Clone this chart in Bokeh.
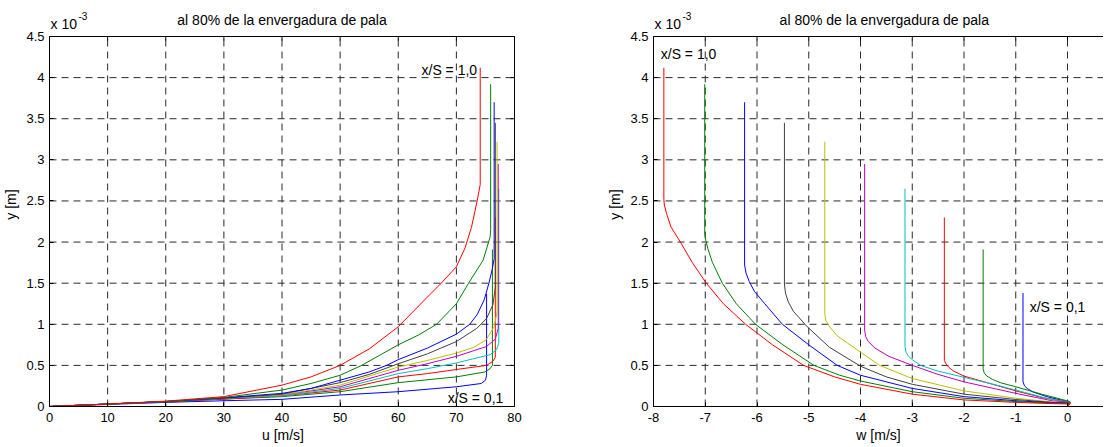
import math
from bokeh.plotting import figure
from bokeh.layouts import row
from bokeh.models import Range1d, FixedTicker, NumeralTickFormatter, Label
from bokeh.embed import file_html
from bokeh.resources import INLINE

# ---------------- data (y in units of 1e-3 m) ----------------
title_text = "al 80% de la envergadura de pala"
x_over_s = ["0,1", "0,2", "0,3", "0,4", "0,5", "0,6", "0,7", "0,8", "0,9", "1,0"]

u_ticks = [0, 10, 20, 30, 40, 50, 60, 70, 80]
w_ticks = [-8, -7, -6, -5, -4, -3, -2, -1, 0]
y_ticks = [0, 0.5, 1, 1.5, 2, 2.5, 3, 3.5, 4, 4.5]
u_lim = (0, 80)
w_lim = (-8, 1)
y_lim = (0, 4.5)

# streamwise velocity profiles u(y)
u01 = [0, 10, 20, 30, 40, 50, 60, 70, 74.3, 75.0, 75.2, 75.2]
yu01 = [0, 0.025, 0.05, 0.07, 0.087, 0.14, 0.18, 0.24, 0.28, 0.32, 0.38, 1.37]
u02 = [0, 10, 20, 30, 40, 50, 60, 70, 74.9, 75.8, 76.2, 76.2]
yu02 = [0, 0.03, 0.055, 0.09, 0.12, 0.18, 0.29, 0.36, 0.42, 0.46, 0.50, 1.91]
u03 = [0, 10, 20, 30, 40, 50, 60, 65, 70, 75.2, 76.3, 76.7, 76.7]
yu03 = [0, 0.03, 0.06, 0.09, 0.13, 0.20, 0.36, 0.40, 0.45, 0.50, 0.55, 0.60, 2.30]
u04 = [0, 10, 20, 30, 40, 50, 60, 65, 70, 75.8, 76.9, 77.3, 77.3]
yu04 = [0, 0.03, 0.06, 0.10, 0.13, 0.22, 0.40, 0.46, 0.53, 0.63, 0.69, 0.77, 2.65]
u05 = [0, 10, 20, 30, 40, 50, 60, 65, 70, 75.2, 76.7, 77.2, 77.2]
yu05 = [0, 0.03, 0.06, 0.10, 0.14, 0.24, 0.44, 0.52, 0.61, 0.73, 0.82, 0.95, 2.95]
u06 = [0, 10, 20, 30, 40, 50, 60, 65, 70, 73, 75.1, 76.5, 77.0, 77.0]
yu06 = [0, 0.03, 0.06, 0.10, 0.14, 0.26, 0.48, 0.56, 0.65, 0.72, 0.81, 0.97, 1.15, 3.22]
u07 = [0, 10, 20, 30, 40, 50, 55, 60, 65, 70, 73.5, 75.2, 76.3, 76.7, 76.7]
yu07 = [0, 0.03, 0.06, 0.10, 0.15, 0.29, 0.39, 0.52, 0.64, 0.79, 0.95, 1.07, 1.24, 1.45, 3.45]
u08 = [0, 10, 20, 30, 40, 45, 50, 55, 58, 60, 65, 70, 72.3, 73.6, 74.8, 75.6, 76.2, 76.5, 76.5]
yu08 = [0, 0.03, 0.06, 0.105, 0.16, 0.22, 0.32, 0.42, 0.50, 0.57, 0.71, 0.88, 1.00, 1.12, 1.30, 1.50, 1.68, 1.80, 3.70]
u09 = [0, 10, 20, 30, 40, 45, 50, 53.7, 60, 63.5, 66.6, 70, 72.1, 74.6, 75.8, 75.9, 75.9]
yu09 = [0, 0.03, 0.06, 0.11, 0.20, 0.28, 0.38, 0.50, 0.75, 0.87, 1.00, 1.25, 1.50, 1.78, 2.06, 2.15, 3.92]
u10 = [0, 10, 20, 30, 40, 45, 50, 55, 60, 65, 67.4, 70, 71.5, 72.6, 73.6, 74.1, 74.1]
yu10 = [0, 0.03, 0.065, 0.12, 0.26, 0.36, 0.50, 0.70, 0.97, 1.33, 1.50, 1.70, 1.93, 2.18, 2.51, 2.70, 4.12]

# crossflow velocity profiles w(y)
w01 = [-0.86, -0.86, -0.83, -0.78, -0.68, -0.40, -0.10, 0.05, 0.0]
yw01 = [1.38, 0.30, 0.25, 0.22, 0.18, 0.12, 0.075, 0.05, 0.0]
w02 = [-1.63, -1.63, -1.61, -1.56, -1.45, -1.30, -1.00, -0.50, 0.05, 0.0]
yw02 = [1.91, 0.46, 0.41, 0.37, 0.33, 0.29, 0.24, 0.15, 0.06, 0.0]
w03 = [-2.38, -2.38, -2.35, -2.30, -2.20, -2.00, -1.50, -1.00, -0.50, 0.05, 0.0]
yw03 = [2.30, 0.56, 0.52, 0.48, 0.43, 0.37, 0.28, 0.19, 0.11, 0.05, 0.0]
w04 = [-3.14, -3.14, -3.12, -3.07, -3.00, -2.84, -2.50, -2.00, -1.50, -1.00, -0.40, 0.05, 0.0]
yw04 = [2.65, 0.73, 0.66, 0.61, 0.57, 0.50, 0.43, 0.355, 0.28, 0.20, 0.10, 0.05, 0.0]
w05 = [-3.92, -3.92, -3.90, -3.85, -3.72, -3.45, -3.00, -2.50, -2.00, -1.00, -0.30, 0.05, 0.0]
yw05 = [2.95, 0.93, 0.85, 0.79, 0.71, 0.61, 0.50, 0.39, 0.30, 0.16, 0.07, 0.05, 0.0]
w06 = [-4.69, -4.69, -4.67, -4.61, -4.45, -4.00, -3.63, -3.00, -2.00, -1.00, -0.30, 0.05, 0.0]
yw06 = [3.22, 1.13, 1.05, 0.98, 0.86, 0.66, 0.50, 0.34, 0.19, 0.10, 0.055, 0.045, 0.0]
w07 = [-5.47, -5.47, -5.45, -5.40, -5.30, -5.03, -4.60, -4.00, -3.50, -3.00, -2.00, -1.00, -0.30, 0.05, 0.0]
yw07 = [3.45, 1.49, 1.38, 1.28, 1.16, 0.97, 0.72, 0.49, 0.36, 0.27, 0.15, 0.085, 0.05, 0.04, 0.0]
w08 = [-6.24, -6.24, -6.21, -6.15, -6.05, -5.85, -5.51, -5.00, -4.45, -4.00, -3.00, -2.00, -1.00, -0.30, 0.05, 0.0]
yw08 = [3.70, 1.72, 1.62, 1.52, 1.40, 1.25, 1.00, 0.75, 0.50, 0.38, 0.22, 0.12, 0.07, 0.045, 0.04, 0.0]
w09 = [-7.01, -7.01, -6.99, -6.95, -6.86, -6.67, -6.40, -6.03, -5.50, -4.90, -4.40, -4.00, -3.00, -2.00, -1.00, -0.30, 0.05, 0.0]
yw09 = [3.92, 2.10, 2.02, 1.92, 1.75, 1.50, 1.25, 1.00, 0.75, 0.50, 0.38, 0.31, 0.18, 0.10, 0.06, 0.04, 0.035, 0.0]
w10 = [-7.80, -7.80, -7.79, -7.75, -7.66, -7.48, -7.25, -6.98, -6.65, -6.22, -5.70, -5.10, -4.50, -4.00, -3.00, -2.00, -1.00, -0.30, 0.05, 0.0]
yw10 = [4.12, 2.52, 2.45, 2.35, 2.18, 2.00, 1.75, 1.50, 1.25, 1.00, 0.75, 0.50, 0.36, 0.27, 0.15, 0.08, 0.05, 0.035, 0.03, 0.0]

u_curves = [(u01, yu01), (u02, yu02), (u03, yu03), (u04, yu04), (u05, yu05),
            (u06, yu06), (u07, yu07), (u08, yu08), (u09, yu09), (u10, yu10)]
w_curves = [(w01, yw01), (w02, yw02), (w03, yw03), (w04, yw04), (w05, yw05),
            (w06, yw06), (w07, yw07), (w08, yw08), (w09, yw09), (w10, yw10)]

# ---------------- styles / layout ----------------
colors = ["#0000ff", "#008000", "#ff0000", "#00bfbf", "#bf00bf",
          "#bfbf00", "#404040", "#0000ff", "#008000", "#ff0000"]
FONT = "Liberation Sans"
TICK_SIZE = "13px"
TEXT_SIZE = "14px"

FIG_H = 445
FRAME_TOP_GAP = 2        # px between figure top and (extended) frame top
HEADER_PX = 34           # px of frame above y = 4.5 used for title / exponent
FRAME_H = 404            # px, frame height (incl. header area)
PX_PER_Y = (FRAME_H - HEADER_PX) / (y_lim[1] - y_lim[0])
y_top = y_lim[1] + HEADER_PX / PX_PER_Y

L_FRAME_W = 467
L_PX_PER_X = 465 / (u_lim[1] - u_lim[0])
u_right = u_lim[0] + L_FRAME_W / L_PX_PER_X

R_FRAME_W = 450
R_PX_PER_X = 51.75
w_right = w_lim[0] + R_FRAME_W / R_PX_PER_X

GRID_COLOR = "#2a2a2a"
GRID_DASH = "7 5"
TICK_LEN = 4


def style(p, xticks, xbounds):
    p.background_fill_color = "white"
    p.border_fill_color = "white"
    p.outline_line_color = None
    p.xgrid.visible = False
    p.ygrid.visible = False
    p.yaxis.ticker = FixedTicker(ticks=y_ticks)
    p.xaxis.ticker = FixedTicker(ticks=xticks)
    p.yaxis.formatter = NumeralTickFormatter(format="0.[0]")
    p.xaxis.formatter = NumeralTickFormatter(format="0")
    p.yaxis.bounds = y_lim
    p.xaxis.bounds = xbounds
    for ax in (p.xaxis[0], p.yaxis[0]):
        ax.major_tick_in = TICK_LEN
        ax.major_tick_out = 0
        ax.minor_tick_line_color = None
        ax.axis_line_color = "black"
        ax.major_tick_line_color = "black"
        ax.major_label_text_font = FONT
        ax.major_label_text_font_size = TICK_SIZE
        ax.major_label_text_color = "black"
        ax.axis_label_text_font = FONT
        ax.axis_label_text_font_size = TEXT_SIZE
        ax.axis_label_text_font_style = "normal"
        ax.axis_label_text_color = "black"
    p.xaxis.major_label_standoff = 6
    p.xaxis.axis_label_standoff = 2
    p.yaxis.major_label_standoff = 5
    p.yaxis.axis_label_standoff = 4


def grid(p, xticks, x0, x1):
    p.segment(x0=xticks, y0=[y_lim[0]] * len(xticks), x1=xticks, y1=[y_lim[1]] * len(xticks),
              line_color=GRID_COLOR, line_dash=GRID_DASH, line_width=1)
    p.segment(x0=[x0] * len(y_ticks), y0=y_ticks, x1=[x1] * len(y_ticks), y1=y_ticks,
              line_color=GRID_COLOR, line_dash=GRID_DASH, line_width=1)
    # inward tick marks on the top edge
    p.ray(x=xticks, y=[y_lim[1]] * len(xticks), length=TICK_LEN, length_units="screen",
          angle=-math.pi / 2, line_color="black", line_width=1)


def add_header(p, x_left, x_center):
    p.add_layout(Label(x=x_center, y=y_lim[1], y_offset=17, text=title_text,
                       text_align="center", text_baseline="middle",
                       text_font=FONT, text_font_size=TEXT_SIZE, text_color="black"))
    p.add_layout(Label(x=x_left, y=y_lim[1], x_offset=1, y_offset=13, text="x 10",
                       text_align="left", text_baseline="middle",
                       text_font=FONT, text_font_size=TEXT_SIZE, text_color="black"))
    p.add_layout(Label(x=x_left, y=y_lim[1], x_offset=29, y_offset=21, text="-3",
                       text_align="left", text_baseline="middle",
                       text_font=FONT, text_font_size="10px", text_color="black"))


def note(p, x, y, text):
    p.add_layout(Label(x=x, y=y, text=text, text_align="left", text_baseline="middle",
                       text_font=FONT, text_font_size=TEXT_SIZE, text_color="black"))


# ---------------- left: u ----------------
p1 = figure(width=600, height=FIG_H, frame_width=L_FRAME_W, frame_height=FRAME_H,
            output_backend="svg", toolbar_location=None,
            x_range=Range1d(u_lim[0], u_right), y_range=Range1d(y_lim[0], y_top),
            min_border_left=45, min_border_right=88, min_border_top=FRAME_TOP_GAP,
            min_border_bottom=FIG_H - FRAME_H - FRAME_TOP_GAP,
            x_axis_label="u [m/s]", y_axis_label="y [m]")
style(p1, u_ticks, u_lim)
grid(p1, u_ticks, u_lim[0], u_lim[1])
p1.ray(x=[u_lim[1]] * len(y_ticks), y=y_ticks, length=TICK_LEN, length_units="screen",
       angle=math.pi, line_color="black", line_width=1)
for (xs, ys), c in zip(u_curves, colors):
    p1.line(xs, ys, line_color=c, line_width=1)
# box: top and right edges
p1.segment(x0=[u_lim[0], u_lim[1]], y0=[y_lim[1], y_lim[0]],
           x1=[u_lim[1], u_lim[1]], y1=[y_lim[1], y_lim[1]], line_color="black", line_width=1)
add_header(p1, u_lim[0], (u_lim[0] + u_lim[1]) / 2)
note(p1, 64.0, 4.09, "x/S = " + x_over_s[-1])
note(p1, 68.5, 0.10, "x/S = " + x_over_s[0])

# ---------------- right: w ----------------
p2 = figure(width=495, height=FIG_H, frame_width=R_FRAME_W, frame_height=FRAME_H,
            output_backend="svg", toolbar_location=None,
            x_range=Range1d(w_lim[0], w_right), y_range=Range1d(y_lim[0], y_top),
            min_border_left=45, min_border_right=0, min_border_top=FRAME_TOP_GAP,
            min_border_bottom=FIG_H - FRAME_H - FRAME_TOP_GAP,
            x_axis_label="w [m/s]", y_axis_label="y [m]")
style(p2, w_ticks, (w_lim[0], w_right))
grid(p2, w_ticks, w_lim[0], w_right)
for (xs, ys), c in zip(w_curves, colors):
    p2.line(xs, ys, line_color=c, line_width=1)
p2.segment(x0=[w_lim[0]], y0=[y_lim[1]], x1=[w_right], y1=[y_lim[1]],
           line_color="black", line_width=1)
add_header(p2, w_lim[0], (w_lim[0] + w_lim[1]) / 2 - 0.04)
note(p2, -7.86, 4.29, "x/S = " + x_over_s[-1])
note(p2, -0.73, 1.21, "x/S = " + x_over_s[0])

layout = row(p1, p2, spacing=0)
open("out.html", "w").write(file_html(layout, INLINE))
